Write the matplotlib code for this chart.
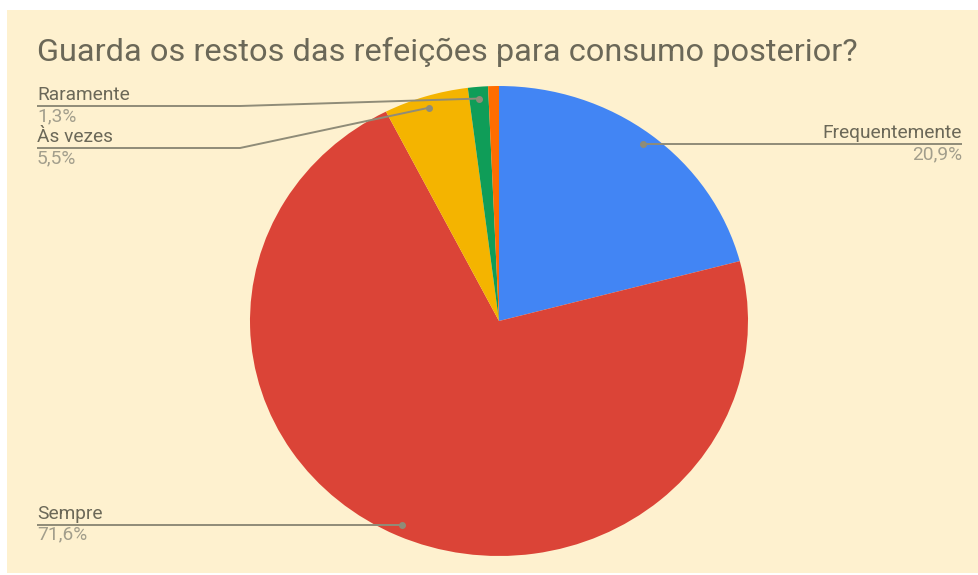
import matplotlib
matplotlib.use("Agg")
import matplotlib.pyplot as plt
from matplotlib.patches import Rectangle
import numpy as np

# dados do gráfico
categorias = ["Frequentemente", "Sempre", "Às vezes", "Raramente", "Nunca"]
percentuais = [20.9, 71.6, 5.5, 1.3, 0.7]
rotulos_pct = ["20,9%", "71,6%", "5,5%", "1,3%", None]
cores = ["#4285F4", "#DB4437", "#F4B400", "#0F9D58", "#FF6D00"]

titulo = "Guarda os restos das refeições para consumo posterior?"

W, H = 979, 575
fig = plt.figure(figsize=(W / 100, H / 100), dpi=100, facecolor="white")
fig.patches.append(Rectangle((7 / W, (H - 573) / H), (W - 7) / W, 563 / H,
                             transform=fig.transFigure, facecolor="#FEF1CF",
                             edgecolor="none", zorder=-10))

# pizza (imagem original levemente esticada na horizontal)
cx, cy, rx, ry = 499, 321, 249, 235
ax = fig.add_axes([(cx - rx) / W, (H - cy - ry) / H, 2 * rx / W, 2 * ry / H])
ax.pie(percentuais, colors=cores, startangle=90, counterclock=False,
       wedgeprops=dict(linewidth=0))
ax.set_aspect("auto")
ax.set_xlim(-1, 1)
ax.set_ylim(-1, 1)
ax.axis("off")

# camada de anotações em coordenadas de pixel
ov = fig.add_axes([0, 0, 1, 1])
ov.set_xlim(0, W)
ov.set_ylim(H, 0)
ov.axis("off")
ov.patch.set_visible(False)

fig.text(37 / W, 1 - 52 / H, titulo, fontsize=23.4, family="Roboto",
         color="#6b6858", va="center", ha="left")


def ancora(i, r=0.95):
    inicio = sum(percentuais[:i])
    meio = np.deg2rad(90 - (inicio + percentuais[i] / 2) * 3.6)
    p = ax.transData.transform((r * np.cos(meio), r * np.sin(meio)))
    return ov.transData.inverted().transform(p)


cor_linha = "#8f8c78"
cor_nome = "#6b6858"
cor_pct = "#a29e8c"
fs = 13.8

# (indice, y da linha, lado)
rotulos = [(0, None, "dir"), (1, None, "esq"), (2, 148, "esq"), (3, 106, "esq")]
for i, ylin, lado in rotulos:
    x0, y0 = ancora(i)
    if ylin is None:
        ylin = y0
    if lado == "esq":
        xs = [37, 240, x0]
        ys = [ylin, ylin, y0]
        xt, ha = 37, "left"
    else:
        xs = [x0, 962]
        ys = [ylin, ylin]
        xt, ha = 962, "right"
    ov.plot(xs, ys, color=cor_linha, lw=1.4, solid_capstyle="butt")
    ov.plot([x0], [y0], "o", color=cor_linha, ms=4)
    ov.text(xt, ylin - 2, categorias[i], fontsize=fs, family="Roboto",
            color=cor_nome, ha=ha, va="bottom")
    ov.text(xt, ylin + 1, rotulos_pct[i], fontsize=fs, family="Roboto",
            color=cor_pct, ha=ha, va="top")

fig.savefig("out.png", dpi=100, facecolor="white")
